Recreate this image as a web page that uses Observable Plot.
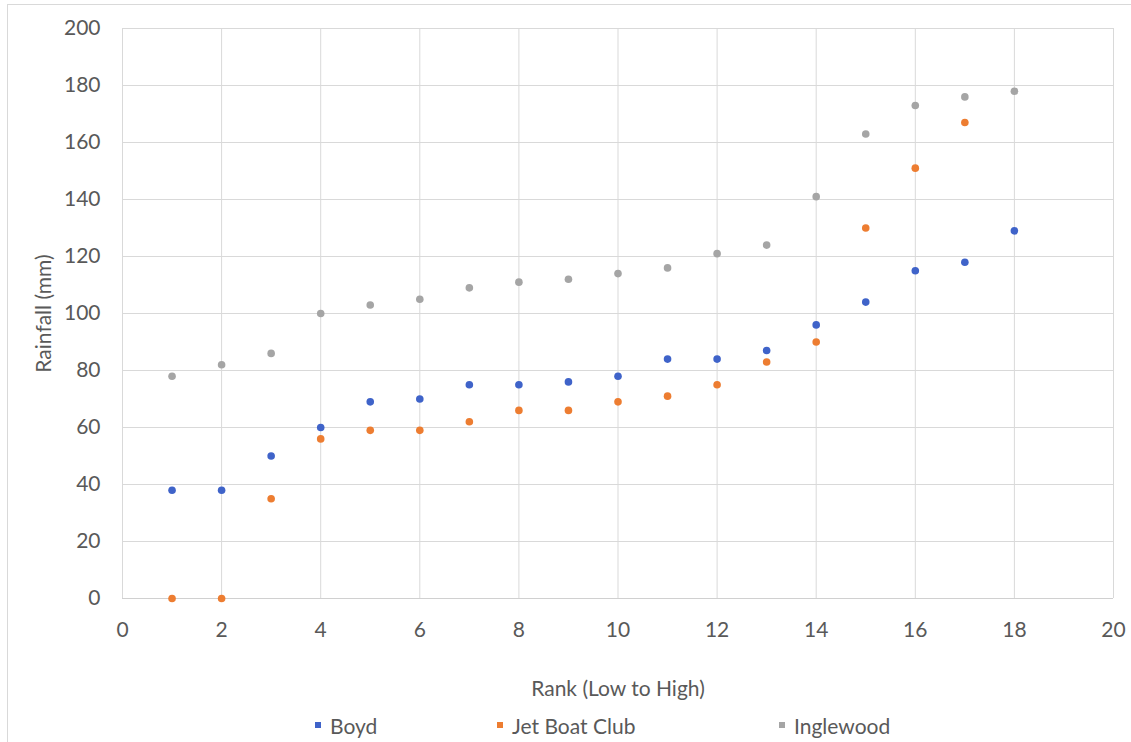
<!DOCTYPE html>
<html>
<head>
<meta charset="utf-8">
<script src="https://cdn.jsdelivr.net/npm/d3@7"></script>
<script src="https://cdn.jsdelivr.net/npm/@observablehq/plot@0.6"></script>
<style>
  html, body { margin: 0; padding: 0; background: #fff; }
  body { width: 1131px; height: 742px; position: relative; overflow: hidden; font-family: Lato, "Open Sans", sans-serif; }
  #border { position: absolute; left: 7px; top: 4px; right: -2px; bottom: -2px; border-left: 1px solid #d9d9d9; border-top: 1px solid #d9d9d9; }
  #chart { position: absolute; left: 0; top: 0; }
  #legend { position: absolute; left: 0; top: 711px; width: 1131px; height: 28px; color: #595959; font-size: 21px; }
  .item { position: absolute; top: 0; display: flex; align-items: center; height: 28px; }
  .sw { width: 6px; height: 6px; margin-right: 9px; }
</style>
</head>
<body>
<div id="border"></div>
<div id="chart"></div>
<div id="legend"></div>
<script>
const seriesNames = ["Boyd", "Jet Boat Club", "Inglewood"];
const seriesColors = ["#3f63c9", "#ed7d31", "#a5a5a5"];
const boydRank = [1,2,3,4,5,6,7,8,9,10,11,12,13,14,15,16,17,18];
const boydRain = [38,38,50,60,69,70,75,75,76,78,84,84,87,96,104,115,118,129];
const jetRank = [1,2,3,4,5,6,7,8,9,10,11,12,13,14,15,16,17];
const jetRain = [0,0,35,56,59,59,62,66,66,69,71,75,83,90,130,151,167];
const ingleRank = [1,2,3,4,5,6,7,8,9,10,11,12,13,14,15,16,17,18];
const ingleRain = [78,82,86,100,103,105,109,111,112,114,116,121,124,141,163,173,176,178];
const xTicks = [0,2,4,6,8,10,12,14,16,18,20];
const yTicks = [0,20,40,60,80,100,120,140,160,180,200];

const data = [
  ...boydRank.map((r, i) => ({rank: r, rain: boydRain[i], series: seriesNames[0]})),
  ...jetRank.map((r, i) => ({rank: r, rain: jetRain[i], series: seriesNames[1]})),
  ...ingleRank.map((r, i) => ({rank: r, rain: ingleRain[i], series: seriesNames[2]}))
];

const chart = Plot.plot({
  width: 1131,
  height: 742,
  marginLeft: 122,
  marginRight: 18,
  marginTop: 28,
  marginBottom: 144,
  style: {fontFamily: "Lato, 'Open Sans', sans-serif", fontSize: "21px", color: "#595959", background: "transparent"},
  x: {domain: [0, 20], ticks: xTicks, tickSize: 0, tickPadding: 24, label: "Rank (Low to High)", labelAnchor: "center", labelOffset: 97, labelArrow: "none"},
  y: {domain: [0, 200], ticks: yTicks, tickSize: 0, tickPadding: 22, label: "Rainfall (mm)", labelAnchor: "center", labelOffset: 86, labelArrow: "none"},
  color: {domain: seriesNames, range: seriesColors},
  marks: [
    Plot.gridX(xTicks, {stroke: "#d9d9d9", strokeOpacity: 1}),
    Plot.gridY(yTicks, {stroke: "#d9d9d9", strokeOpacity: 1}),
    Plot.ruleY([0], {stroke: "#d0d0d0"}),
    Plot.dot(data, {x: "rank", y: "rain", fill: "series", r: 3.8})
  ]
});
document.getElementById("chart").appendChild(chart);

const legend = document.getElementById("legend");
const legendX = [315, 497, 779];
seriesNames.forEach((name, i) => {
  const it = document.createElement("div");
  it.className = "item";
  it.style.left = legendX[i] + "px";
  const sw = document.createElement("div");
  sw.className = "sw";
  sw.style.background = seriesColors[i];
  const t = document.createElement("span");
  t.textContent = name;
  it.appendChild(sw); it.appendChild(t);
  legend.appendChild(it);
});
</script>
</body>
</html>
